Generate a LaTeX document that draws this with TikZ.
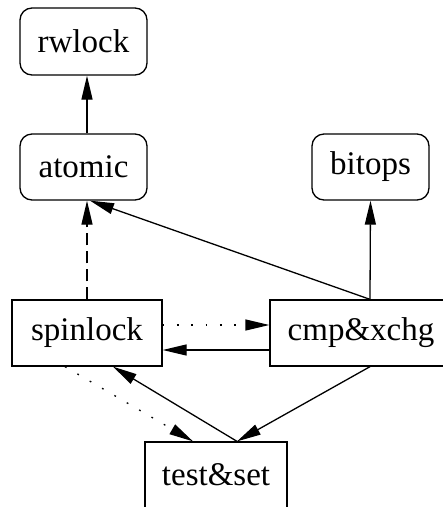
\documentclass[tikz,border=0pt]{standalone}
\usepackage{fontspec}
\setmainfont{Liberation Serif}
\usetikzlibrary{arrows.meta}

\begin{document}
\begin{tikzpicture}[x=1pt, y=-1pt, line width=1.3pt,
    rbox/.style={draw, rounded corners=12pt, inner sep=0pt, font=\fontsize{33}{39}\selectfont},
    sbox/.style={draw, inner sep=0pt, font=\fontsize{33}{39}\selectfont},
    dep/.style={-{Triangle[length=24pt, width=11pt]}},
    dotline/.style={dash pattern=on 1.8pt off 12.5pt},
    dashline/.style={dash pattern=on 12pt off 6pt}]
    \useasboundingbox (0,0) rectangle (443,507);

    % Nodes
    \node[rbox, minimum width=127pt, minimum height=67pt] (rwlock) at (83.5,41.5) {rwlock};
    \node[rbox, minimum width=127pt, minimum height=66pt] (atomic) at (83.5,167) {atomic};
    \node[rbox, minimum width=117pt, minimum height=66pt] (bitops) at (370.5,167) {bitops};
    \node[sbox, minimum width=150pt, minimum height=66pt] (spinlock) at (87,333) {spinlock};
    \node[sbox, minimum width=182pt, minimum height=66pt] (cmpxchg) at (361,333) {cmp\&xchg};
    \node[sbox, minimum width=142pt, minimum height=66pt] (testset) at (216,475) {test\&set};

    % Edges
    \draw[dep] ([xshift=3.5pt]atomic.north) -- ([xshift=3.5pt]rwlock.south);
    \draw[dep, dashline] (spinlock.north) -- ([xshift=3.5pt]atomic.south);
    \draw[dep] ([xshift=9pt]cmpxchg.north) -- ([xshift=6.5pt]atomic.south);
    \draw[dep] ([xshift=9pt]cmpxchg.north) -- (bitops.south);
    \draw[dep, dotline] ([yshift=8pt]spinlock.east) -- ([yshift=8pt]cmpxchg.west);
    \draw[dep] ([yshift=-17pt]cmpxchg.west) -- ([yshift=-17pt]spinlock.east);
    \draw[dep, dotline] ([xshift=-22pt]spinlock.south) -- ([xshift=-23pt]testset.north);
    \draw[dep] ([xshift=21pt]testset.north) -- ([xshift=26pt]spinlock.south);
    \draw[dep] ([xshift=9pt]cmpxchg.south) -- ([xshift=21pt]testset.north);

\end{tikzpicture}
\end{document}
